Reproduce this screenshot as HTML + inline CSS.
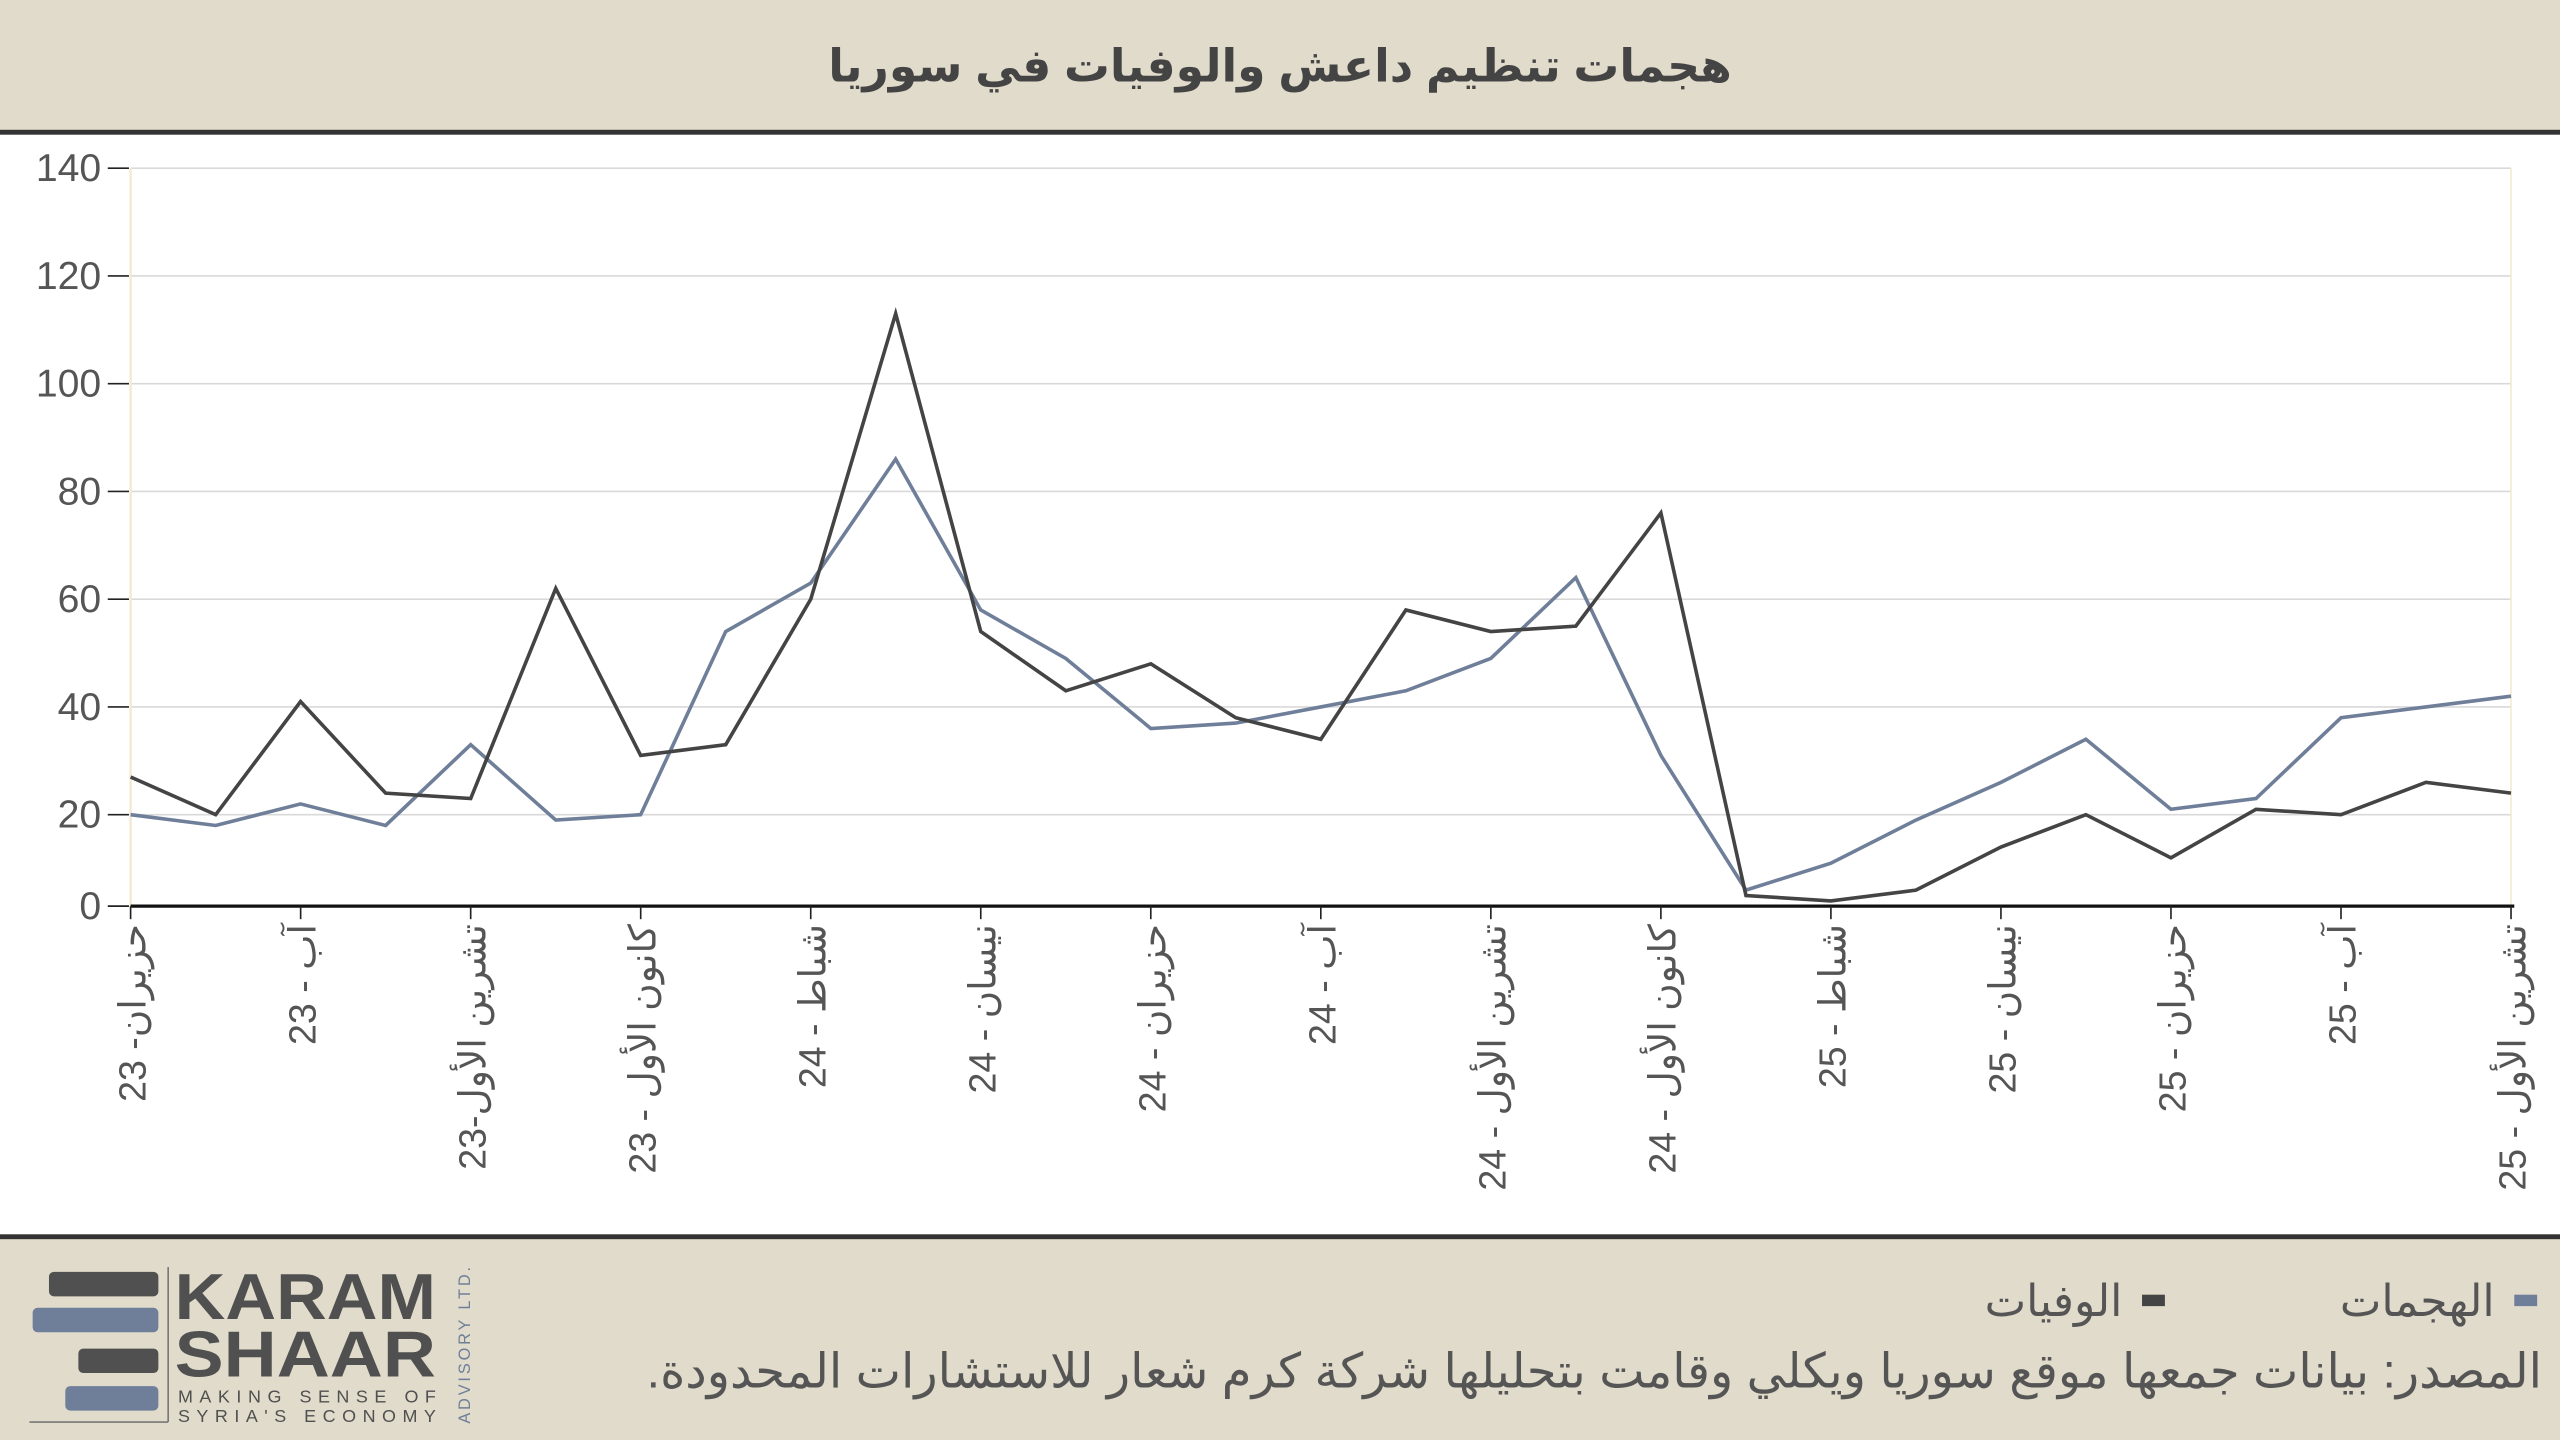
<!DOCTYPE html>
<html lang="ar">
<head>
<meta charset="utf-8">
<style>
html,body{margin:0;padding:0;background:#fff;}
svg{display:block;}
text{font-family:"Liberation Sans","DejaVu Sans","Noto Sans CJK SC",sans-serif;}
</style>
</head>
<body>
<svg id="chart" width="2560" height="1440" viewBox="0 0 1568 882" xmlns="http://www.w3.org/2000/svg">
  <rect x="0" y="0" width="1568" height="80" fill="#e0dbca"/>
  <rect x="0" y="79.5" width="1568" height="3" fill="#333"/>
  <text x="784" y="50" text-anchor="middle" font-size="28" font-weight="bold" fill="#444" direction="rtl">هجمات تنظيم داعش والوفيات في سوريا</text>

  <g id="grid"></g>
  <g id="yaxis"></g>
  <line x1="80" y1="103" x2="80" y2="555" stroke="#f3ead2" stroke-width="1.5"/>
  <line x1="1538" y1="103" x2="1538" y2="555" stroke="#f3ead2" stroke-width="1"/>
  <g id="series"></g>
  <line x1="80" y1="555" x2="1540" y2="555" stroke="#111" stroke-width="2"/>
  <g id="xaxis"></g>

  <rect x="0" y="757" width="1568" height="125" fill="#e0dbca"/>
  <rect x="0" y="756" width="1568" height="3" fill="#333"/>

  <g>
    <rect x="30" y="779" width="67" height="15" rx="3" fill="#505050"/>
    <rect x="20" y="801" width="77" height="15" rx="3" fill="#6f7f99"/>
    <rect x="48" y="826" width="49" height="15" rx="3" fill="#505050"/>
    <rect x="40" y="849" width="57" height="15" rx="3" fill="#6f7f99"/>
    <line x1="103" y1="776" x2="103" y2="871" stroke="#777" stroke-width="1"/>
    <line x1="18" y1="871" x2="103" y2="871" stroke="#777" stroke-width="1"/>
    <text x="107" y="808" font-size="40" fill="#505050" font-weight="bold" textLength="160" lengthAdjust="spacingAndGlyphs">KARAM</text>
    <text x="107" y="843" font-size="40" fill="#505050" font-weight="bold" textLength="160" lengthAdjust="spacingAndGlyphs">SHAAR</text>
    <text x="109" y="859" font-size="11" fill="#505050" textLength="158" lengthAdjust="spacing">MAKING SENSE OF</text>
    <text x="109" y="871" font-size="11" fill="#505050" textLength="158" lengthAdjust="spacing">SYRIA'S ECONOMY</text>
    <text transform="translate(288,872) rotate(-90)" font-size="10" fill="#6f7f99" textLength="96" lengthAdjust="spacing">ADVISORY LTD.</text>
  </g>

  <g>
    <rect x="1540" y="793" width="14" height="7" fill="#6f7f99"/>
    <text x="1528" y="806" text-anchor="start" font-size="27" fill="#555" direction="rtl">الهجمات</text>
    <rect x="1312" y="793" width="14" height="7" fill="#444"/>
    <text x="1300" y="806" text-anchor="start" font-size="27" fill="#555" direction="rtl">الوفيات</text>
  </g>
  <text x="1557" y="850" text-anchor="start" direction="rtl" font-size="29.5" fill="#555">المصدر: بيانات جمعها موقع سوريا ويكلي وقامت بتحليلها شركة كرم شعار للاستشارات المحدودة.</text>
</svg>
<script>
const months = ["2023-06","2023-07","2023-08","2023-09","2023-10","2023-11","2023-12","2024-01","2024-02","2024-03","2024-04","2024-05","2024-06","2024-07","2024-08","2024-09","2024-10","2024-11","2024-12","2025-01","2025-02","2025-03","2025-04","2025-05","2025-06","2025-07","2025-08","2025-09","2025-10"];
const attacks = [20,18,22,18,33,19,20,54,63,86,58,49,36,37,40,43,49,64,31,6,11,19,26,34,21,23,38,40,42];
const deaths = [27,20,41,24,23,62,31,33,60,113,54,43,48,38,34,58,54,55,76,5,4,6,14,20,12,21,20,26,24];
const yTicks = [20,40,60,80,100,120,140];
const xLabels = ["حزيران- 23","آب - 23","تشرين الأول-23","كانون الأول - 23","شباط - 24","نيسان - 24","حزيران - 24","آب - 24","تشرين الأول - 24","كانون الأول - 24","شباط - 25","نيسان - 25","حزيران - 25","آب - 25","تشرين الأول - 25"];

const NS = "http://www.w3.org/2000/svg";
const X0 = 80, X1 = 1538;
function xScale(i){ return X0 + (X1 - X0) * i / (months.length - 1); }
function yScale(v){ return 565 - 3.3 * v; }
function mk(tag, attrs, parent){
  const e = document.createElementNS(NS, tag);
  for (const k in attrs) e.setAttribute(k, attrs[k]);
  parent.appendChild(e);
  return e;
}
const grid = document.getElementById('grid');
const yaxis = document.getElementById('yaxis');
const xaxis = document.getElementById('xaxis');
const series = document.getElementById('series');

yTicks.forEach(t => {
  const y = yScale(t);
  const g = mk('line', {x1:X0, x2:X1, y1:y, y2:y, stroke:'#d9d9d9', 'stroke-width':1}, grid);
  
  
  const tk = mk('line', {x1:66, x2:79, y1:y, y2:y, stroke:'#222', 'stroke-width':1}, yaxis);
  
  
  const lb = mk('text', {x:62, y:y+8, 'text-anchor':'end', 'font-size':24, fill:'#555'}, yaxis);
  lb.textContent = t;
  
  
});
const zt = mk('line', {x1:66, x2:79, y1:555, y2:555, stroke:'#222', 'stroke-width':1}, yaxis);


const zl = mk('text', {x:62, y:563, 'text-anchor':'end', 'font-size':24, fill:'#555'}, yaxis);
zl.textContent = '0';



xLabels.forEach((lab, j) => {
  const x = xScale(j * 2);
  const tk = mk('line', {x1:x, x2:x, y1:555, y2:563, stroke:'#222', 'stroke-width':1}, xaxis);
  
  
  const t = mk('text', {transform:`translate(${x+9},566) rotate(-90)`, 'text-anchor':'end', 'font-size':23, fill:'#555'}, xaxis);
  t.textContent = lab;
  
  
});

function line(vals, color, name){
  const pts = vals.map((v,i) => xScale(i).toFixed(1) + ',' + yScale(v).toFixed(1)).join(' ');
  const p = mk('polyline', {points:pts, fill:'none', stroke:color, 'stroke-width':2.2, 'stroke-linejoin':'miter'}, series);
  
  
}
line(attacks, '#6f7f99', 'attacks-line');
line(deaths, '#444444', 'deaths-line');
</script>
</body>
</html>
